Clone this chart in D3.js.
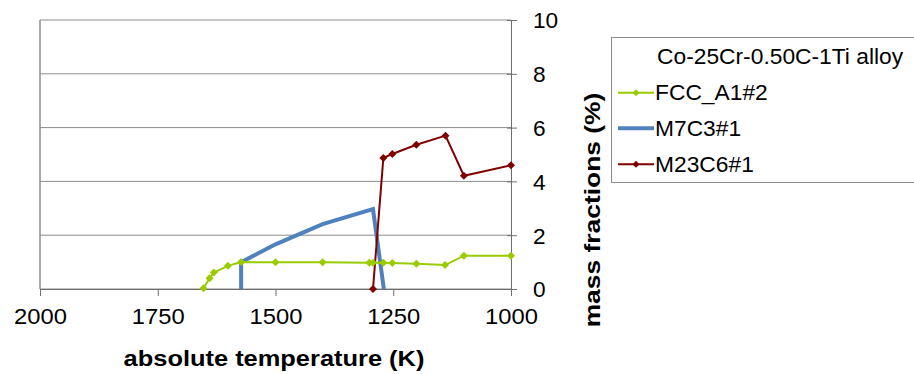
<!DOCTYPE html>
<html>
<head>
<meta charset="utf-8">
<script src="https://cdn.jsdelivr.net/npm/d3@7"></script>
<style>
  body { margin: 0; background: #fff; }
  svg { display: block; font-family: "Liberation Sans", Arial, sans-serif; }
</style>
</head>
<body>
<svg id="chart" width="914" height="374"></svg>
<script>
// data
const xTicks = [2000, 1750, 1500, 1250, 1000];
const yTicks = [0, 2, 4, 6, 8, 10];

const fccT = [1653, 1640, 1631, 1601, 1573, 1500, 1400, 1301, 1293, 1271, 1252, 1201, 1140, 1100, 1000];
const fccV = [0.03, 0.40, 0.61, 0.86, 1.00, 0.99, 0.99, 0.98, 0.98, 0.98, 0.97, 0.94, 0.89, 1.24, 1.24];

const m7T = [1573, 1573, 1500, 1400, 1293, 1270];
const m7V = [0, 1.00, 1.66, 2.41, 2.97, 0];

const m23T = [1293, 1271, 1252, 1201, 1139, 1100, 1000];
const m23V = [0, 4.87, 5.02, 5.36, 5.70, 4.21, 4.60];

const legendTitle = "Co-25Cr-0.50C-1Ti alloy";
const seriesNames = ["FCC_A1#2", "M7C3#1", "M23C6#1"];

const svg = d3.select("#chart");
const plot = { left: 40, right: 511, top: 20, bottom: 289 };

const x = d3.scaleLinear().domain([2000, 1000]).range([plot.left, plot.right]);
const y = d3.scaleLinear().domain([0, 10]).range([plot.bottom, plot.top]);

// stretch text horizontally like the original
function stretch(sel, k) {
  sel.each(function () {
    const w = this.getComputedTextLength();
    d3.select(this).attr("textLength", w * k).attr("lengthAdjust", "spacingAndGlyphs");
  });
}

// gridlines
svg.append("g")
  .selectAll("line")
  .data(yTicks)
  .join("line")
  .attr("x1", plot.left).attr("x2", plot.right)
  .attr("y1", d => y(d)).attr("y2", d => y(d))
  .attr("stroke", "#8c8c8c").attr("stroke-width", 1);

// left border
svg.append("line")
  .attr("x1", plot.left).attr("x2", plot.left)
  .attr("y1", plot.top).attr("y2", plot.bottom)
  .attr("stroke", "#8c8c8c").attr("stroke-width", 1.5);

// x axis
const xAxis = d3.axisBottom(x).tickValues(xTicks).tickSize(7).tickSizeOuter(0).tickFormat(d3.format("d"));
const gx = svg.append("g")
  .attr("transform", `translate(0,${plot.bottom})`)
  .call(xAxis);
gx.select(".domain").attr("stroke", "#6e6e6e");
gx.selectAll(".tick line").attr("stroke", "#6e6e6e");
gx.selectAll(".tick text")
  .attr("y", 35).attr("dy", 0)
  .attr("font-size", 22).attr("fill", "#000")
  .call(stretch, 1.08);

// right y axis
const yAxis = d3.axisRight(y).tickValues(yTicks).tickSize(6).tickSizeOuter(0);
const gy = svg.append("g")
  .attr("transform", `translate(${plot.right},0)`)
  .call(yAxis);
gy.select(".domain").attr("stroke", "#6e6e6e");
gy.selectAll(".tick line").attr("stroke", "#6e6e6e").attr("x1", -4);
gy.selectAll(".tick text")
  .attr("x", 22).attr("dy", "0.36em")
  .attr("font-size", 22).attr("fill", "#000")
  .call(stretch, 1.03);

// axis titles
svg.append("text")
  .attr("x", 274).attr("y", 366)
  .attr("text-anchor", "middle")
  .attr("font-size", 22).attr("font-weight", "bold")
  .text("absolute temperature (K)")
  .call(stretch, 1.155);

svg.append("text")
  .attr("transform", "translate(600,210) rotate(-90)")
  .attr("text-anchor", "middle")
  .attr("font-size", 22).attr("font-weight", "bold")
  .text("mass fractions (%)")
  .call(stretch, 1.2);

// series
const line = d3.line().x(d => x(d[0])).y(d => y(d[1]));
const diamond = r => `M0,${-r}L${r},0L0,${r}L${-r},0Z`;

const fcc = d3.zip(fccT, fccV);
const m7 = d3.zip(m7T, m7V);
const m23 = d3.zip(m23T, m23V);

svg.append("path").datum(m7)
  .attr("d", line).attr("fill", "none")
  .attr("stroke", "#4f81bd").attr("stroke-width", 4).attr("stroke-linejoin", "miter");

svg.append("path").datum(m23)
  .attr("d", line).attr("fill", "none")
  .attr("stroke", "#800000").attr("stroke-width", 2);
svg.append("g").selectAll("path")
  .data(m23).join("path")
  .attr("transform", d => `translate(${x(d[0])},${y(d[1])})`)
  .attr("d", diamond(4)).attr("fill", "#800000");

svg.append("path").datum(fcc)
  .attr("d", line).attr("fill", "none")
  .attr("stroke", "#99cc00").attr("stroke-width", 2);
svg.append("g").selectAll("path")
  .data(fcc).join("path")
  .attr("transform", d => `translate(${x(d[0])},${y(d[1])})`)
  .attr("d", diamond(4)).attr("fill", "#99cc00");

// legend
const lg = svg.append("g");
lg.append("rect")
  .attr("x", 611.5).attr("y", 37.5).attr("width", 320).attr("height", 145)
  .attr("fill", "#fff").attr("stroke", "#8c8c8c").attr("stroke-width", 1);
lg.append("text")
  .attr("x", 657).attr("y", 63.5)
  .attr("font-size", 21.5).attr("fill", "#000")
  .text(legendTitle)
  .call(stretch, 1.06);

const legColors = ["#99cc00", "#4f81bd", "#800000"];
const legWidths = [2, 4, 2];
const legMarkers = [true, false, true];
const legBase = [100, 135.5, 171.5];
seriesNames.forEach((name, i) => {
  const ly = legBase[i] - 7.3;
  lg.append("line")
    .attr("x1", 618).attr("x2", 654).attr("y1", ly).attr("y2", ly)
    .attr("stroke", legColors[i]).attr("stroke-width", legWidths[i]);
  if (legMarkers[i]) {
    lg.append("path").attr("transform", `translate(636,${ly})`)
      .attr("d", diamond(3.5)).attr("fill", legColors[i]);
  }
  lg.append("text")
    .attr("x", 655).attr("y", legBase[i])
    .attr("font-size", 21.5).attr("fill", "#000")
    .text(name)
    .call(stretch, 1.06);
});
</script>
</body>
</html>
